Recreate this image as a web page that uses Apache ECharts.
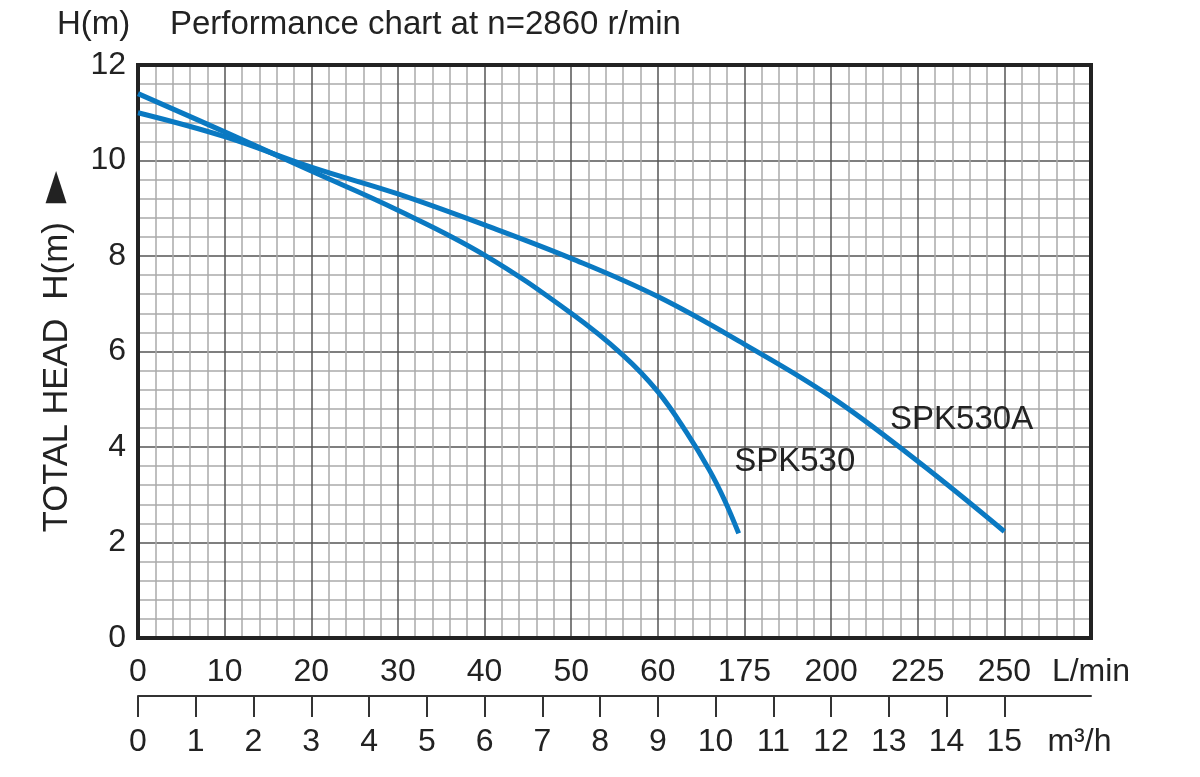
<!DOCTYPE html>
<html>
<head>
<meta charset="utf-8">
<script src="https://cdn.jsdelivr.net/npm/echarts@6/dist/echarts.min.js"></script>
<style>html,body{margin:0;padding:0;background:#fff}#c{width:1200px;height:777px}</style>
</head>
<body>
<div id="c"></div>
<script>
// Flow in m3/h, head in m
const spk530Flow = [0, 1.5, 3, 4.5, 6, 7.5, 8.4, 9, 9.5, 9.9, 10.15, 10.4];
const spk530Head = [11.4, 10.6, 9.78, 8.96, 8.02, 6.8, 5.92, 5.16, 4.3, 3.5, 2.9, 2.19];
const spk530aFlow = [0, 1.5, 3, 4.5, 6, 7.5, 9, 10.5, 12, 13.5, 15];
const spk530aHead = [11.0, 10.5, 9.86, 9.3, 8.65, 7.95, 7.15, 6.15, 5.05, 3.7, 2.23];
const lminLabels = ['0', '10', '20', '30', '40', '50', '60', '175', '200', '225', '250', 'L/min'];
const m3hTicks = [0, 1, 2, 3, 4, 5, 6, 7, 8, 9, 10, 11, 12, 13, 14, 15];
const m3hUnitPos = 16.3;
const yTicks = [0, 2, 4, 6, 8, 10, 12];

const FONT = "'Liberation Sans', Arial, sans-serif";
const TXT = '#222';
const BLUE = '#0a79c2';

const chart = echarts.init(document.getElementById('c'), null, {renderer: 'canvas'});
const pair = (xs, ys) => xs.map((x, i) => [x, ys[i]]);

chart.setOption({
  animation: false,
  backgroundColor: '#fff',
  textStyle: {fontFamily: FONT},
  title: [
    {text: 'H(m)', left: 52, top: 3, textStyle: {fontFamily: FONT, fontSize: 33, fontWeight: 'normal', color: TXT}},
    {text: 'Performance chart at n=2860 r/min', left: 165, top: 3, textStyle: {fontFamily: FONT, fontSize: 33, fontWeight: 'normal', color: TXT}}
  ],
  grid: {left: 138, right: 109, top: 65, bottom: 139, show: true, borderColor: '#222', borderWidth: 4, backgroundColor: 'transparent', z: 3},
  xAxis: [
    {
      type: 'value', min: 0, max: 16.5, interval: 1.5,
      axisLine: {show: false}, axisTick: {show: false},
      axisLabel: {
        fontSize: 32, color: TXT, fontFamily: FONT, margin: 18, showMaxLabel: true, showMinLabel: true,
        formatter: v => lminLabels[Math.round(v / 1.5)]
      },
      splitLine: {show: true, lineStyle: {color: '#555', width: 1.5}},
      minorTick: {show: false, splitNumber: 5},
      minorSplitLine: {show: true, lineStyle: {color: '#aaa', width: 1.5}}
    },
    {
      type: 'value', min: 0, max: 16.5, position: 'bottom', offset: 58,
      axisLine: {show: true, lineStyle: {color: '#333', width: 2}},
      axisTick: {show: true, length: 21, lineStyle: {color: '#333', width: 2}, customValues: m3hTicks},
      axisLabel: {
        fontSize: 32, color: TXT, fontFamily: FONT, margin: 30,
        customValues: m3hTicks.concat([m3hUnitPos]),
        formatter: v => (v === m3hUnitPos ? 'm³/h' : String(v))
      },
      splitLine: {show: false}
    }
  ],
  yAxis: {
    type: 'value', min: 0, max: 12, interval: 2,
    axisLine: {show: false}, axisTick: {show: false},
    axisLabel: {fontSize: 32, color: TXT, fontFamily: FONT, margin: 12, customValues: yTicks},
    splitLine: {show: true, lineStyle: {color: '#555', width: 1.5}},
    minorTick: {show: false, splitNumber: 5},
    minorSplitLine: {show: true, lineStyle: {color: '#aaa', width: 1.5}},
    name: '{a|TOTAL HEAD}{s|  }{c|H(m)}{s|  }{b|►}',
    nameLocation: 'middle', nameGap: 59,
    nameTextStyle: {
      rich: {
        a: {fontSize: 34.5, color: TXT, fontFamily: FONT},
        c: {fontSize: 35, color: TXT, fontFamily: FONT},
        s: {fontSize: 34, color: TXT, fontFamily: FONT},
        b: {fontSize: 42, color: TXT, fontFamily: 'DejaVu Sans', padding: [0, 0, 2, 0]}
      }
    }
  },
  series: [
    {
      name: 'SPK530', type: 'line', smooth: 0.4, symbol: 'none', z: 5,
      lineStyle: {color: BLUE, width: 5},
      data: pair(spk530Flow, spk530Head),
      markPoint: {
        symbol: 'circle', symbolSize: 0, silent: true,
        label: {show: true, position: 'inside', formatter: 'SPK530', fontSize: 33, color: TXT, fontFamily: FONT},
        data: [{coord: [11.37, 3.69]}]
      }
    },
    {
      name: 'SPK530A', type: 'line', smooth: 0.4, symbol: 'none', z: 5,
      lineStyle: {color: BLUE, width: 5},
      data: pair(spk530aFlow, spk530aHead),
      markPoint: {
        symbol: 'circle', symbolSize: 0, silent: true,
        label: {show: true, position: 'inside', formatter: 'SPK530A', fontSize: 33, color: TXT, fontFamily: FONT},
        data: [{coord: [14.26, 4.57]}]
      }
    }
  ]
});
</script>
</body>
</html>
